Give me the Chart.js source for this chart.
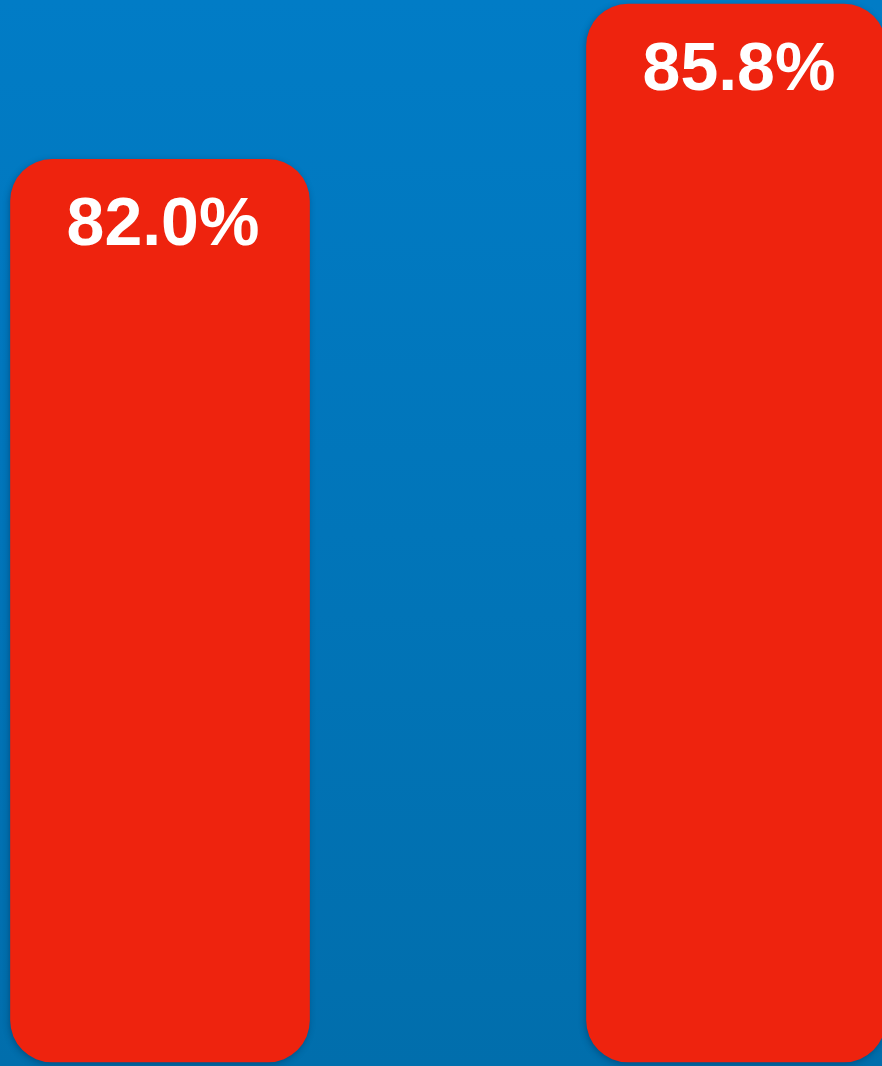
<!DOCTYPE html>
<html>
<head>
<meta charset="utf-8">
<script src="https://cdn.jsdelivr.net/npm/chart.js@4/dist/chart.umd.min.js"></script>
<style>
  html, body { margin: 0; padding: 0; background: #0076bb; }
  #wrap { width: 882px; height: 1066px; position: relative; }
</style>
</head>
<body>
<div id="wrap"><canvas id="chartBars"></canvas></div>
<script>
var categories = ['A', 'B'];
var values = [82.0, 85.8];
var valueLabels = ['82.0%', '85.8%'];
var axisMin = 59.9;
var axisMax = 85.9;

// blue gradient behind the plot
var bgPlugin = {
    id: 'bgGradient',
    beforeDraw: function(chart) {
        var ctx = chart.ctx;
        var g = ctx.createLinearGradient(0, 0, 0, chart.height);
        g.addColorStop(0, '#017cc6');
        g.addColorStop(1, '#016eac');
        ctx.save();
        ctx.fillStyle = g;
        ctx.fillRect(0, 0, chart.width, chart.height);
        ctx.restore();
    }
};

// soft shadow under the bars
var shadowPlugin = {
    id: 'barShadow',
    beforeDatasetDraw: function(chart) {
        var ctx = chart.ctx;
        ctx.save();
        ctx.shadowColor = 'rgba(0, 30, 60, 0.35)';
        ctx.shadowBlur = 6;
        ctx.shadowOffsetX = -1;
        ctx.shadowOffsetY = 2;
    },
    afterDatasetDraw: function(chart) {
        chart.ctx.restore();
    }
};

// value labels inside the top of each bar
var labelPlugin = {
    id: 'topLabels',
    afterDatasetsDraw: function(chart) {
        var ctx = chart.ctx;
        var meta = chart.getDatasetMeta(0);
        ctx.save();
        ctx.fillStyle = '#ffffff';
        ctx.font = 'bold 68px "Liberation Sans", Arial, sans-serif';
        ctx.textAlign = 'center';
        ctx.textBaseline = 'alphabetic';
        meta.data.forEach(function(bar, i) {
            ctx.fillText(valueLabels[i], bar.x + 3, bar.y + 86);
        });
        ctx.restore();
    }
};

var ctx = document.getElementById('chartBars');
new Chart(ctx, {
    type: 'bar',
    data: {
        labels: categories,
        datasets: [{
            data: values,
            base: axisMin,
            backgroundColor: '#ee230e',
            borderWidth: 0,
            borderRadius: 42,
            borderSkipped: false,
            barThickness: 299,
            clip: false
        }]
    },
    options: {
        responsive: true,
        maintainAspectRatio: false,
        animation: false,
        layout: {
            padding: { left: 160, right: 146, top: 0, bottom: 4 }
        },
        plugins: {
            legend: { display: false },
            tooltip: { enabled: false }
        },
        scales: {
            x: { display: false, offset: false },
            y: { display: false, min: axisMin, max: axisMax }
        }
    },
    plugins: [bgPlugin, shadowPlugin, labelPlugin]
});
</script>
</body>
</html>
